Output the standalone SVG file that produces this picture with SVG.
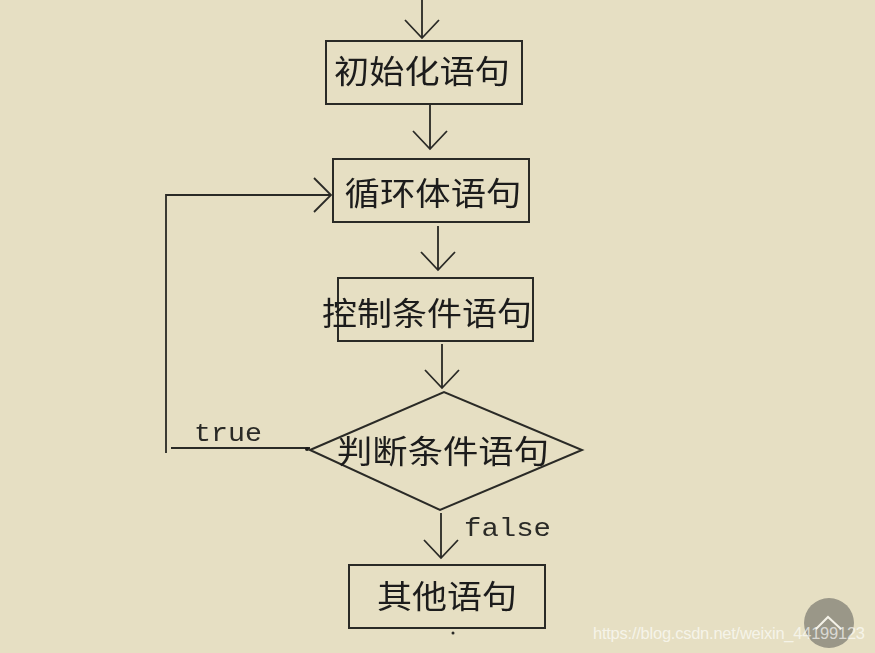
<svg xmlns="http://www.w3.org/2000/svg" width="875" height="653" viewBox="0 0 875 653">
<style>
.b{fill:none;stroke:#2a2a26;stroke-width:2}
.c{fill:none;stroke:#2a2a26;stroke-width:1.8}
.t{font-family:"Noto Sans CJK SC",sans-serif;font-size:32px;fill:#1e1e1c;text-anchor:middle}
.m{font-family:"Liberation Mono",monospace;font-size:25px;fill:#2a2a26}
.d{filter:url(#soft)}
</style>
<defs><filter id="soft" x="-5%" y="-5%" width="110%" height="110%"><feGaussianBlur stdDeviation="0.45"/></filter></defs>
<rect width="875" height="653" fill="#e6dfc3"/>
<g id="connectors" class="d">
<path class="c" d="M422 0V38M405 20L422 38L439 20"/>
<path class="c" d="M430 105V149M413 131L430 149L447 131"/>
<path class="c" d="M438 226V270M421 252L438 270L455 252"/>
<path class="c" d="M442 344V388M425 370L442 388L459 370"/>
<path class="c" d="M441 513V558M424 540L441 558L458 540"/>
<path class="c" d="M331 195H166V453M314 178L331 195L314 212"/>
<path d="M171 448H310" fill="none" stroke="#2a2a26" stroke-width="2.2"/>
<circle cx="307" cy="449" r="2" fill="#1e1e1c"/>
</g>
<g id="n1" class="d"><rect class="b" x="326" y="41" width="196" height="63"/><text class="t" x="422" y="83" textLength="176" lengthAdjust="spacingAndGlyphs">初始化语句</text></g>
<g id="n2" class="d"><rect class="b" x="333" y="159" width="196" height="63"/><text class="t" x="433" y="205" textLength="177" lengthAdjust="spacingAndGlyphs">循环体语句</text></g>
<g id="n3" class="d"><rect class="b" x="338" y="278" width="195" height="63"/><text class="t" x="427" y="325" textLength="210" lengthAdjust="spacingAndGlyphs">控制条件语句</text></g>
<g id="n4" class="d"><path class="b" d="M310 450L444 392L582 450L440 510Z"/><text class="t" x="443" y="463" textLength="212" lengthAdjust="spacingAndGlyphs">判断条件语句</text></g>
<g id="n5" class="d"><rect class="b" x="349" y="565" width="196" height="63"/><text class="t" x="447" y="608" textLength="140" lengthAdjust="spacingAndGlyphs">其他语句</text></g>
<g class="d">
<text class="m" x="194" y="441" textLength="68" lengthAdjust="spacingAndGlyphs">true</text>
<text class="m" x="464" y="536" textLength="87" lengthAdjust="spacingAndGlyphs">false</text>
<circle cx="453" cy="633" r="1.5" fill="#2a2a26"/>
</g>
<circle cx="829" cy="623" r="25" fill="#9a9788"/>
<path d="M816 629L828 617L841 629" fill="none" stroke="#f4f2e8" stroke-width="2"/>
<text x="593" y="639" font-family="Liberation Sans,sans-serif" font-size="16.5" fill="#fff" fill-opacity=".65" textLength="272">https://blog.csdn.net/weixin_44199123</text>
</svg>
